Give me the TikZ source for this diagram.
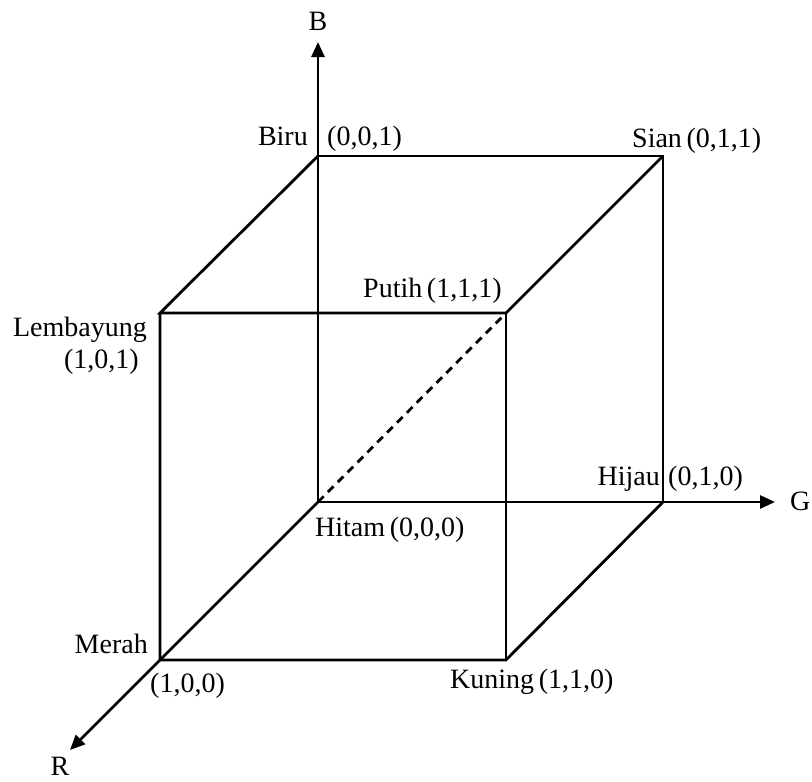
\documentclass[tikz,border=0pt]{standalone}
\usepackage{fontspec}
\setmainfont{Liberation Serif}
\usetikzlibrary{arrows.meta}

\tikzset{
    edge/.style={line width=2.8pt},
    axis/.style={line width=2.8pt, -{Triangle[length=15pt,width=13pt]}},
    lbl/.style={inner sep=0pt, font=\fontsize{28}{32}\selectfont}
}

\begin{document}
\begin{tikzpicture}[x=1pt,y=-1pt]
                \useasboundingbox (0,0) rectangle (812,782);
                % corners of the cube
                \coordinate (hitam) at (318,502);
                \coordinate (biru) at (318,156);
                \coordinate (sian) at (663,156);
                \coordinate (hijau) at (663,502);
                \coordinate (putih) at (506,313);
                \coordinate (lembayung) at (160,313);
                \coordinate (merah) at (160,660);
                \coordinate (kuning) at (506,660);
                % ends of the axes
                \coordinate (bend) at (318,42);
                \coordinate (gend) at (775,502);
                \coordinate (rend) at (70,750);
                % axes
                \draw[axis] (hitam) -- (bend);
                \draw[axis] (hitam) -- (gend);
                \draw[axis] (hitam) -- (rend);
                % edges
                \draw[edge] (biru) -- (sian) -- (hijau);
                \draw[edge] (biru) -- (lembayung) -- (putih) -- (sian);
                \draw[edge] (lembayung) -- (merah) -- (kuning) -- (hijau);
                \draw[edge] (putih) -- (kuning);
                \draw[edge, dashed, dash pattern=on 8pt off 6pt] (hitam) -- (putih);
                % labels
                \node[lbl, anchor=base] (lb) at (318,30) {B};
                \node[lbl, anchor=base west] (lg) at (790,510) {G};
                \node[lbl, anchor=base] (lr) at (60,775) {R};
                \node[lbl, anchor=base east] (nbiru) at (308,145) {Biru};
                \node[lbl, anchor=base west] (vbiru) at (327,145) {(0,0,1)};
                \node[lbl, anchor=base west] (nsian) at (632,147) {Sian\,(0,1,1)};
                \node[lbl, anchor=base east] (nlembayung) at (147,336) {Lembayung};
                \node[lbl, anchor=base east] (vlembayung) at (139,368) {(1,0,1)};
                \node[lbl, anchor=base west] (nputih) at (363,297) {Putih\,(1,1,1)};
                \node[lbl, anchor=base west] (nhitam) at (315,536) {Hitam\,(0,0,0)};
                \node[lbl, anchor=base east] (nhijau) at (660,485) {Hijau};
                \node[lbl, anchor=base west] (vhijau) at (668,485) {(0,1,0)};
                \node[lbl, anchor=base east] (nmerah) at (148,653) {Merah};
                \node[lbl, anchor=base west] (vmerah) at (150,692) {(1,0,0)};
                \node[lbl, anchor=base west] (nkuning) at (450,688) {Kuning\,(1,1,0)};
\end{tikzpicture}
\end{document}
